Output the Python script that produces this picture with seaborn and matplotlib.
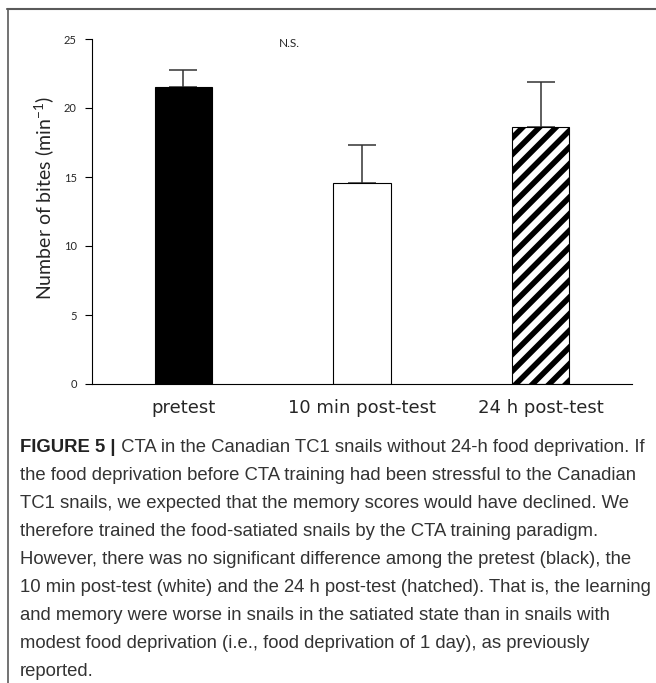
import matplotlib
matplotlib.use("Agg")
import matplotlib.pyplot as plt
from matplotlib.lines import Line2D
import seaborn as sns
import pandas as pd

# Bite counts per minute, mean and upper SEM
conditions = ["pretest", "10 min post-test", "24 h post-test"]
mean_bites = [21.5, 14.6, 18.6]
sem_bites = [1.25, 2.7, 3.3]
bar_colors = ["black", "white", "white"]
y_ticks = [0, 5, 10, 15, 20, 25]

caption_head = "FIGURE 5 |"
caption_lines = [
    " CTA in the Canadian TC1 snails without 24-h food deprivation. If",
    "the food deprivation before CTA training had been stressful to the Canadian",
    "TC1 snails, we expected that the memory scores would have declined. We",
    "therefore trained the food-satiated snails by the CTA training paradigm.",
    "However, there was no significant difference among the pretest (black), the",
    "10 min post-test (white) and the 24 h post-test (hatched). That is, the learning",
    "and memory were worse in snails in the satiated state than in snails with",
    "modest food deprivation (i.e., food deprivation of 1 day), as previously",
    "reported.",
]

sns.set_style("white")
plt.rcParams["hatch.linewidth"] = 4.0
plt.rcParams["hatch.color"] = "black"

df = pd.DataFrame({"condition": conditions, "bites": mean_bites})

fig = plt.figure(figsize=(6.56, 6.83), dpi=100)
ax = fig.add_axes([92 / 656, 1 - 384 / 683, 540 / 656, 345 / 683])

sns.barplot(data=df, x="condition", y="bites", order=conditions,
            errorbar=None, width=0.32, ax=ax, color="white")
for patch, col in zip(ax.patches, bar_colors):
    patch.set_facecolor(col)
    patch.set_edgecolor("black")
    patch.set_linewidth(0.8)
    patch.set_zorder(2)
ax.patches[2].set_hatch("//")

ax.errorbar(range(len(conditions)), mean_bites,
            yerr=[[0] * len(sem_bites), sem_bites],
            fmt="none", ecolor="#333333", elinewidth=1.1,
            capsize=10, capthick=1.1, zorder=1)

ax.set_xlim(-0.51, 2.51)
ax.set_ylim(0, 25)
ax.set_yticks(y_ticks)
ax.set_yticklabels([str(t) for t in y_ticks], fontsize=8, family="Lato")
ax.tick_params(axis="y", direction="out", length=5, width=0.8, color="black",
               left=True, pad=6)
ax.tick_params(axis="x", length=0, pad=11, labelsize=13)
ax.set_xlabel("")
ax.set_ylabel("")

for side in ["top", "right"]:
    ax.spines[side].set_visible(False)
for side in ["left", "bottom"]:
    ax.spines[side].set_color("black")
    ax.spines[side].set_linewidth(0.8)

ax.text(0.595, 24.7, "N.S.", ha="center", va="center", fontsize=8.5,
        family="Lato")

# Axis title, placed by hand beside the y axis
fig.text(45 / 656, 1 - 198 / 683, r"Number of bites (min$^{\mathregular{-1}}$)",
         fontsize=14, family="Lato", rotation=90, ha="center", va="center")

# Panel frame lines
fig.add_artist(Line2D([7 / 656, 1], [1 - 8.5 / 683] * 2, color="#5a5a5a",
                      lw=1.5, transform=fig.transFigure))
fig.add_artist(Line2D([7.5 / 656] * 2, [0, 1 - 8.5 / 683], color="#5a5a5a",
                      lw=1.2, transform=fig.transFigure))

# Caption
cap_font = ["Liberation Sans"]
cap_size = 13.3
cap_color = "#333333"
x0 = 20 / 656
line_y = [448 + i * 27.9 for i in range(len(caption_lines))]
renderer = fig.canvas.get_renderer()
head = fig.text(x0, 1 - line_y[0] / 683, caption_head, fontsize=cap_size,
                family=cap_font, weight="bold", color="#222222", va="center")
head_w = head.get_window_extent(renderer).width / 656
for i, (line, yy) in enumerate(zip(caption_lines, line_y)):
    xx = x0 + head_w if i == 0 else x0
    fig.text(xx, 1 - yy / 683, line, fontsize=cap_size, family=cap_font,
             color=cap_color, va="center")

fig.savefig("out.png", dpi=100)
